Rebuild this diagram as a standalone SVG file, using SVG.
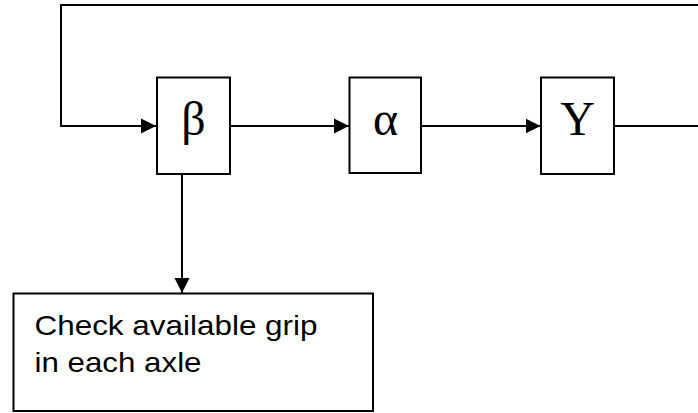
<svg xmlns="http://www.w3.org/2000/svg" width="698" height="413" viewBox="0 0 698 413">
<style>
.box{fill:#fff;stroke:#000;stroke-width:2}
.ln{fill:none;stroke:#000;stroke-width:2}
.greek{font-family:"Liberation Serif","Times New Roman",serif;font-size:48px;text-anchor:middle;fill:#000}
.lbl{font-family:"Liberation Sans",Arial,sans-serif;font-size:28.5px;fill:#000}
</style>
<defs>
<marker id="ah" markerUnits="userSpaceOnUse" markerWidth="16" markerHeight="16" viewBox="0 0 16 16" refX="15" refY="8" orient="auto">
<path d="M0,0.5 L15,8 L0,15.5 Z" fill="#000"/>
</marker>
</defs>
<g id="connectors">
<path class="ln" d="M614,126 H698 M698,5 H61 V126 H156" marker-end="url(#ah)"/>
<path class="ln" d="M230,126 H349" marker-end="url(#ah)"/>
<path class="ln" d="M421,126 H540.5" marker-end="url(#ah)"/>
<path class="ln" d="M182,174 V293" marker-end="url(#ah)"/>
</g>
<g id="beta">
<rect class="box" x="157" y="77.5" width="73" height="96.5"/>
<text class="greek" x="193.5" y="135">β</text>
</g>
<g id="alpha">
<rect class="box" x="349.5" y="77.5" width="71.5" height="95.5"/>
<text class="greek" x="385.5" y="135">α</text>
</g>
<g id="gamma">
<rect class="box" x="541" y="77.5" width="73" height="96.5"/>
<text class="greek" x="577.5" y="135">Y</text>
</g>
<g id="check">
<rect class="box" x="13.5" y="293.5" width="359.5" height="117.5"/>
<text class="lbl" x="34.5" y="335" textLength="283" lengthAdjust="spacingAndGlyphs">Check available grip</text>
<text class="lbl" x="34.5" y="372" textLength="167" lengthAdjust="spacingAndGlyphs">in each axle</text>
</g>
</svg>
